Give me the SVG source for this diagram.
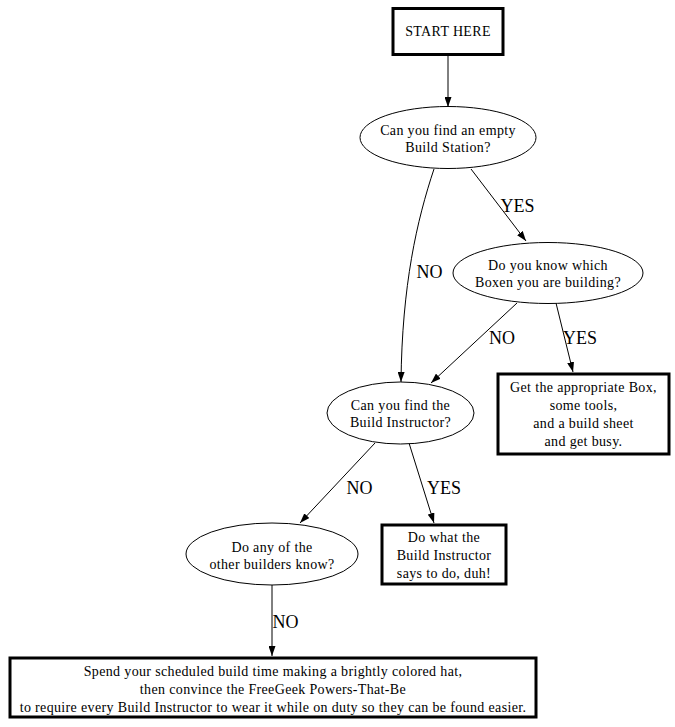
<svg xmlns="http://www.w3.org/2000/svg" width="675" height="727" viewBox="0 0 675 727">
<style>
text{font-family:"Liberation Serif","Times New Roman",serif;fill:#000}
.n{font-size:14px;text-anchor:middle;letter-spacing:0.35px}
.l{font-size:18px;text-anchor:middle}
.box{fill:#fff;stroke:#000;stroke-width:3}
.ell{fill:#fff;stroke:#000;stroke-width:1}
.e{fill:none;stroke:#000;stroke-width:1;marker-end:url(#ah)}
</style>
<defs>
<marker id="ah" viewBox="0 0 10 7" refX="10" refY="3.5" markerWidth="10" markerHeight="7" markerUnits="userSpaceOnUse" orient="auto">
<path d="M0,0 L10,3.5 L0,7 z" fill="#000"/>
</marker>
</defs>
<rect width="675" height="727" fill="#fff"/>
<g id="edges">
<path class="e" d="M448,55 L448,107"/>
<path class="e" d="M434,169 C417,220 402,285 401,382"/>
<path class="e" d="M471,169 L526,241"/>
<path class="e" d="M517,303 L431,383"/>
<path class="e" d="M556,303 L573,372"/>
<path class="e" d="M375,443 L300,523"/>
<path class="e" d="M409,443 L434,523"/>
<path class="e" d="M272,585 L272,656"/>
<text class="l" x="429.5" y="278">NO</text>
<text class="l" x="517.5" y="212">YES</text>
<text class="l" x="502" y="344">NO</text>
<text class="l" x="580" y="344">YES</text>
<text class="l" x="359.5" y="494">NO</text>
<text class="l" x="444" y="494">YES</text>
<text class="l" x="285.5" y="628">NO</text>
</g>
<g id="start">
<rect class="box" x="393" y="8.5" width="110" height="46"/>
<text class="n" x="448" y="36">START HERE</text>
</g>
<g id="q_station">
<ellipse class="ell" cx="448" cy="137.5" rx="88" ry="31"/>
<text class="n" x="448" y="135">Can you find an empty</text>
<text class="n" x="448" y="152">Build Station?</text>
</g>
<g id="q_boxen">
<ellipse class="ell" cx="548" cy="273" rx="95" ry="30.5"/>
<text class="n" x="548" y="270">Do you know which</text>
<text class="n" x="548" y="287">Boxen you are building?</text>
</g>
<g id="get_box">
<rect class="box" x="498" y="374" width="171" height="80"/>
<text class="n" x="583.5" y="392">Get the appropriate Box,</text>
<text class="n" x="583.5" y="410">some tools,</text>
<text class="n" x="583.5" y="428">and a build sheet</text>
<text class="n" x="583.5" y="446">and get busy.</text>
</g>
<g id="q_instructor">
<ellipse class="ell" cx="400.5" cy="413" rx="73.5" ry="31"/>
<text class="n" x="400.5" y="410">Can you find the</text>
<text class="n" x="400.5" y="427">Build Instructor?</text>
</g>
<g id="q_builders">
<ellipse class="ell" cx="272" cy="554" rx="86" ry="31"/>
<text class="n" x="272" y="552">Do any of the</text>
<text class="n" x="272" y="569">other builders know?</text>
</g>
<g id="do_what">
<rect class="box" x="382" y="525" width="124" height="59"/>
<text class="n" x="444" y="542">Do what the</text>
<text class="n" x="444" y="560">Build Instructor</text>
<text class="n" x="444" y="578">says to do, duh!</text>
</g>
<g id="hat">
<rect class="box" x="10" y="658" width="526" height="59"/>
<text class="n" x="273" y="676">Spend your scheduled build time making a brightly colored hat,</text>
<text class="n" x="273" y="694">then convince the FreeGeek Powers-That-Be</text>
<text class="n" x="273" y="712">to require every Build Instructor to wear it while on duty so they can be found easier.</text>
</g>
</svg>
